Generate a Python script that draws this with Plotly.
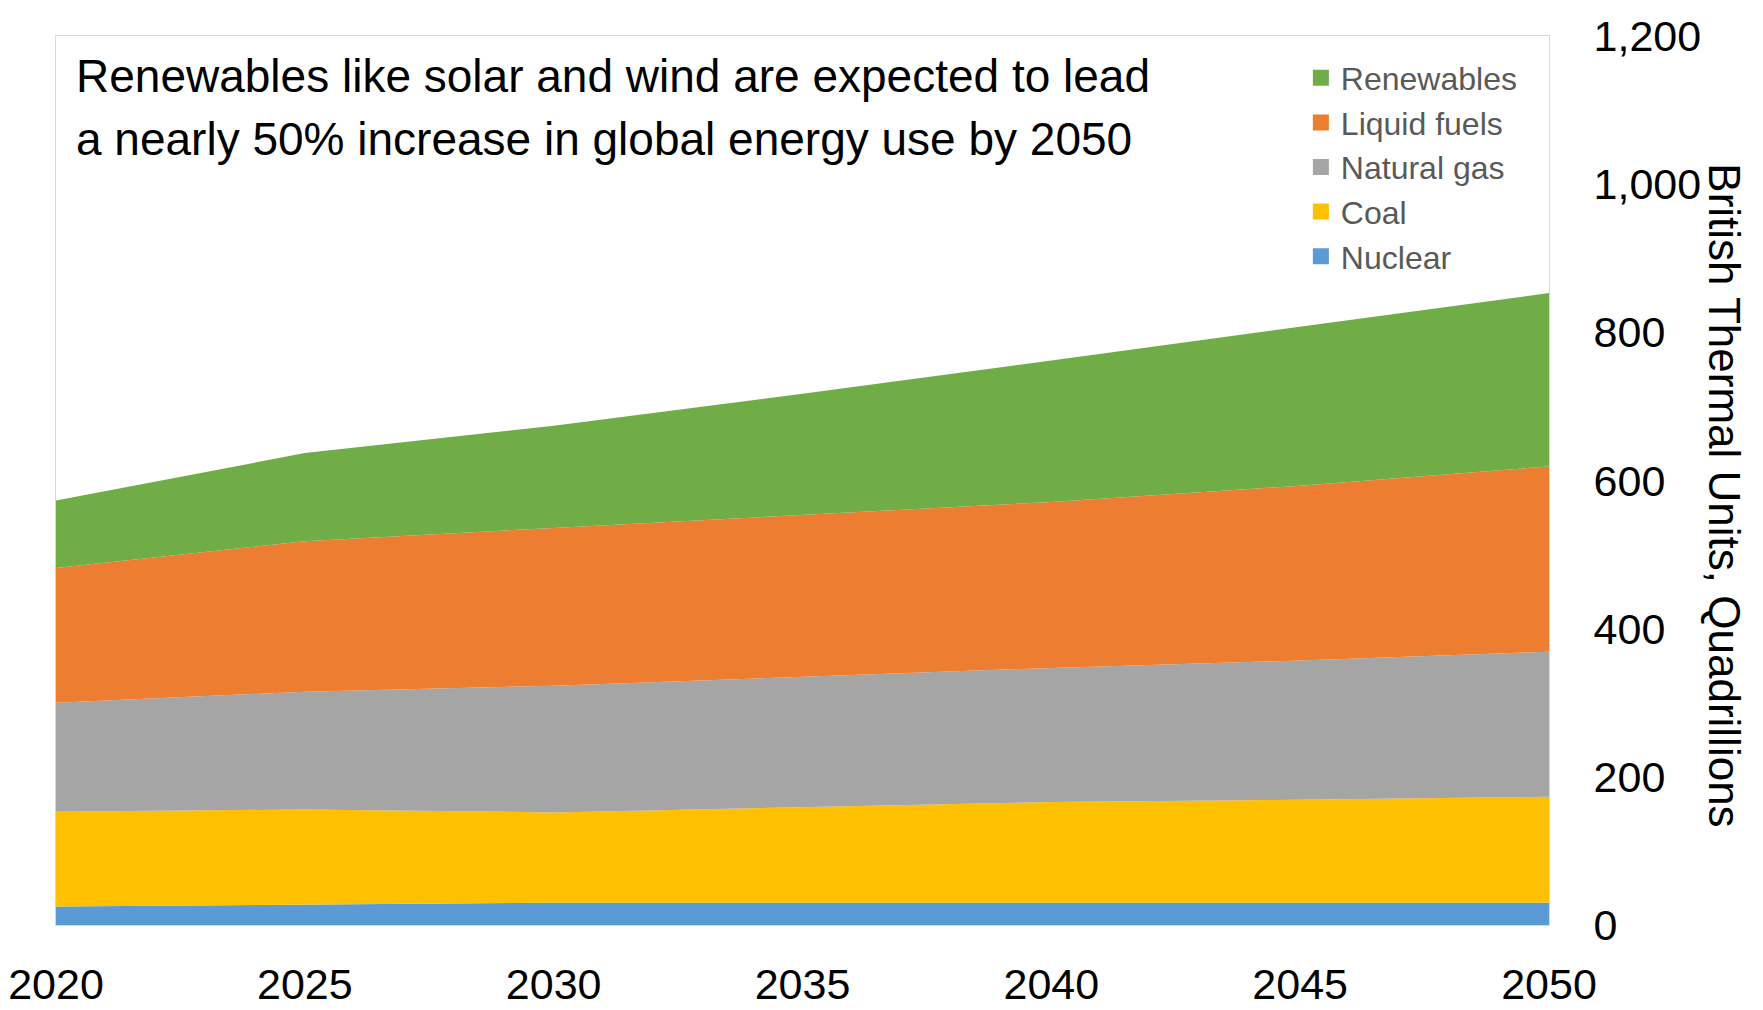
import plotly.graph_objects as go

years = [2020, 2025, 2030, 2035, 2040, 2045, 2050]
nuclear = [25, 27, 30, 30, 30, 30, 30]
coal = [128, 129, 122, 129, 136, 139, 143]
natural_gas = [147, 159, 171, 176, 181, 188, 196]
liquid_fuels = [182, 203, 213, 218, 224, 236, 250]
renewables = [91, 119, 138, 164, 191, 214, 234]

y_ticks = [0, 200, 400, 600, 800, 1000, 1200]

series = [
    ("Nuclear", nuclear, "#5B9BD5"),
    ("Coal", coal, "#FFC000"),
    ("Natural gas", natural_gas, "#A5A5A5"),
    ("Liquid fuels", liquid_fuels, "#ED7D31"),
    ("Renewables", renewables, "#70AD47"),
]

FONT = "Liberation Sans, Arial, sans-serif"

fig = go.Figure()
for name, vals, col in series:
    fig.add_trace(go.Scatter(
        x=years, y=vals, name=name, mode="lines",
        stackgroup="one", line=dict(width=0, color=col),
        fillcolor=col, showlegend=False, hoverinfo="x+y+name",
    ))

# legend entries (square swatches), top to bottom
for name, vals, col in reversed(series):
    fig.add_trace(go.Scatter(
        x=[None], y=[None], name=name, mode="markers",
        marker=dict(symbol="square", size=20, color=col),
        showlegend=True,
    ))

fig.update_layout(
    width=1755, height=1002,
    margin=dict(l=48, r=214, t=28, b=85, autoexpand=False),
    paper_bgcolor="white", plot_bgcolor="white",
    showlegend=True,
    legend=dict(
        x=0.8338, y=0.9837, xanchor="left", yanchor="top",
        traceorder="normal",
        font=dict(family=FONT, size=32, color="#595959"),
        bgcolor="rgba(0,0,0,0)", borderwidth=0,
        itemwidth=30, tracegroupgap=0,
    ),
    xaxis=dict(
        range=[2020, 2050], tickvals=years, ticktext=[str(y) for y in years],
        showgrid=False, zeroline=False, automargin=False,
        ticklabeloverflow="allow",
        showline=True, linecolor="#D9D9D9", linewidth=1, mirror=True,
        ticks="outside", ticklen=21, tickcolor="rgba(0,0,0,0)",
        tickfont=dict(family=FONT, size=43, color="#000000"),
    ),
    yaxis=dict(
        side="right", range=[0, 1200], tickvals=y_ticks,
        ticktext=[f"{v:,}" for v in y_ticks],
        showgrid=False, zeroline=False, automargin=False,
        ticklabeloverflow="allow",
        showline=True, linecolor="#D9D9D9", linewidth=1, mirror=True,
        ticks="outside", ticklen=35, tickcolor="rgba(0,0,0,0)",
        tickfont=dict(family=FONT, size=43, color="#000000"),
    ),
    annotations=[
        dict(
            text="Renewables like solar and wind are expected to lead",
            xref="paper", yref="paper", x=0.01206, y=0.9553,
            xanchor="left", yanchor="middle", align="left", showarrow=False,
            font=dict(family=FONT, size=46, color="#000000"),
        ),
        dict(
            text="a nearly 50% increase in global energy use by 2050",
            xref="paper", yref="paper", x=0.01206, y=0.8838,
            xanchor="left", yanchor="middle", align="left", showarrow=False,
            font=dict(family=FONT, size=46, color="#000000"),
        ),
        dict(
            text="British Thermal Units, Quadrillions",
            xref="paper", yref="paper", x=1.117, y=0.4837,
            xanchor="center", yanchor="middle", textangle=90, showarrow=False,
            font=dict(family=FONT, size=44, color="#000000"),
        ),
    ],
)

fig.write_html("out.html")
